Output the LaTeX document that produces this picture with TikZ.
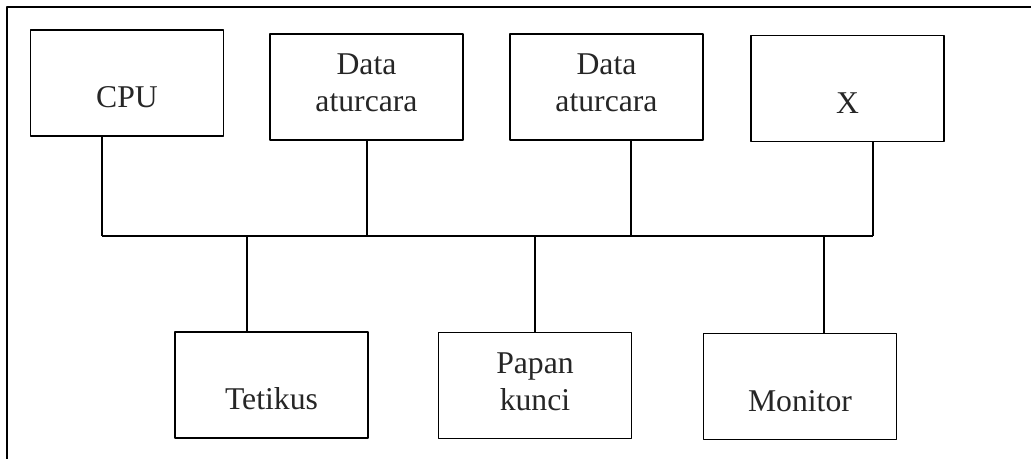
\documentclass[tikz,border=0pt]{standalone}
\usepackage{fontspec}
\setmainfont{Liberation Serif}
\usetikzlibrary{positioning}
\begin{document}
\begin{tikzpicture}[x=1pt,y=-1pt,line width=1.5pt,line join=round,
  font=\fontsize{31.7}{37}\selectfont,
  unit/.style={draw,minimum width=193pt,minimum height=106pt,inner sep=0pt},
  lbl/.style={anchor=base,inner sep=0pt,text=black!85}]
\useasboundingbox (0,0) rectangle (1031,459);
% outer frame (runs off the page to the right and below)
\draw (1031,7) -- (7,7) -- (7,459);
% top row
\node[unit] (cpu) at (127,83) {};
\node[unit] (dataA) at (366.5,87) {};
\node[unit] (dataB) at (606.5,87) {};
\node[unit] (xunit) at (847.5,88.5) {};
% bottom row
\node[unit] (tetikus) at (271.5,385) {};
\node[unit] (papan) at (535,385.5) {};
\node[unit] (monitor) at (800,386.5) {};
% labels
\node[lbl] (cpuT) at ([yshift=29pt]cpu.south) {CPU};
\node[lbl] (dataAT) at ([yshift=29pt]dataA.south) {\begin{tabular}[b]{@{}c@{}}Data\\aturcara\end{tabular}};
\node[lbl] (dataBT) at ([yshift=29pt]dataB.south) {\begin{tabular}[b]{@{}c@{}}Data\\aturcara\end{tabular}};
\node[lbl] (xunitT) at ([yshift=29pt]xunit.south) {X};
\node[lbl] (tetikusT) at ([yshift=29pt]tetikus.south) {Tetikus};
\node[lbl] (papanT) at ([yshift=29pt]papan.south) {\begin{tabular}[b]{@{}c@{}}Papan\\kunci\end{tabular}};
\node[lbl] (monitorT) at ([yshift=29pt]monitor.south) {Monitor};
% bus
\coordinate (busL) at (102,236);
\coordinate (busR) at (873,236);
\draw (busL) -- (busR);
\foreach \n/\dx in {cpu/-25,dataA/0.5,dataB/24.5,xunit/25.5}
  {\draw ([xshift=\dx pt]\n.south) -- ([xshift=\dx pt]\n.south |- busL);}
\foreach \n/\dx in {tetikus/-24.5,papan/0,monitor/24}
  {\draw ([xshift=\dx pt]\n.north) -- ([xshift=\dx pt]\n.north |- busL);}
\end{tikzpicture}
\end{document}
